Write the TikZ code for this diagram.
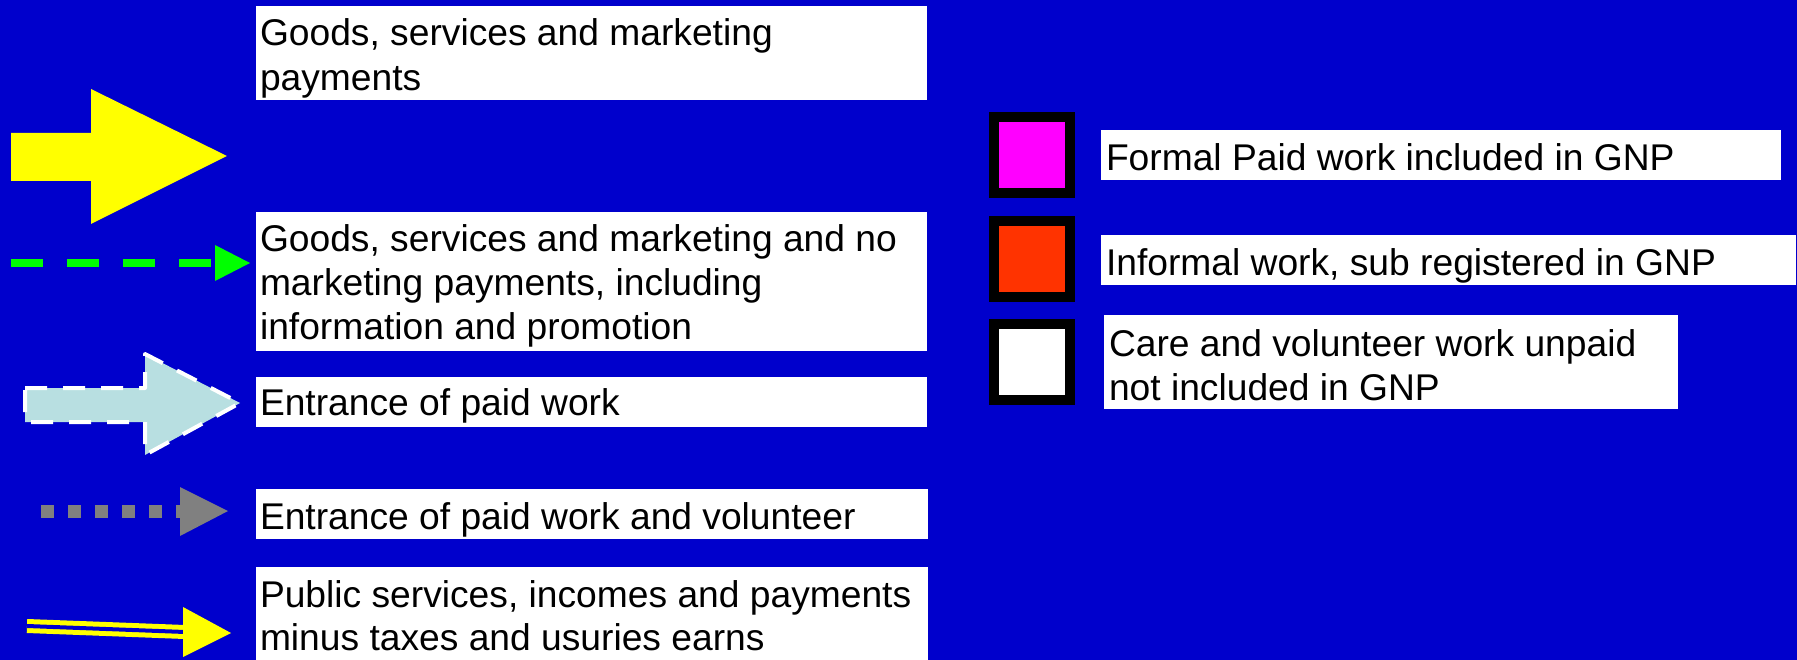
\documentclass[tikz,border=0pt]{standalone}
\usepackage{fontspec}
\setmainfont{Liberation Sans}
\definecolor{bgblue}{RGB}{0,0,204}
\definecolor{ayellow}{RGB}{255,255,0}
\definecolor{agreen}{RGB}{0,255,0}
\definecolor{alblue}{RGB}{184,223,225}
\definecolor{agray}{RGB}{128,128,128}
\definecolor{amagenta}{RGB}{255,0,255}
\definecolor{ared}{RGB}{255,51,0}
\begin{document}
\begin{tikzpicture}[x=1pt,y=-1pt,
  box/.style={fill=white, draw=none, anchor=north west, inner sep=0pt, outer sep=0pt},
  txt/.style={anchor=base west, inner sep=0pt, outer sep=0pt, font=\fontsize{37.2}{43}\selectfont},
  swatch/.style={draw=black, line width=10pt, anchor=north west, minimum width=76pt, minimum height=76pt, inner sep=0pt, outer sep=0pt},
]
\fill[bgblue] (0,0) rectangle (1797,660);
\useasboundingbox (0,0) rectangle (1797,660);

% left text boxes
\node[box, minimum width=671pt, minimum height=94pt] (b1) at (256,6) {};
\node[box, minimum width=671pt, minimum height=139pt] (b2) at (256,212) {};
\node[box, minimum width=671pt, minimum height=50pt] (b3) at (256,377) {};
\node[box, minimum width=672pt, minimum height=50pt] (b4) at (256,489) {};
\node[box, minimum width=672pt, minimum height=93pt] (b5) at (256,567) {};

\node[txt, font=\fontsize{37.2}{45}\selectfont] (t1) at (260,46) {\vtop{\hbox{Goods, services and marketing}\hbox{payments}}};
\node[txt, font=\fontsize{37.2}{44}\selectfont] (t2) at (260,252) {\vtop{\hbox{Goods, services and marketing and no}\hbox{marketing payments, including}\hbox{information and promotion}}};
\node[txt] (t3) at (260,415) {Entrance of paid work};
\node[txt] (t4) at (260,529) {Entrance of paid work and volunteer};
\node[txt] (t5) at (260,607) {\vtop{\hbox{Public services, incomes and payments}\hbox{minus taxes and usuries earns}}};

% right legend
\node[swatch, fill=amagenta] (s1) at (994,117) {};
\node[swatch, fill=ared] (s2) at (994,221) {};
\node[swatch, fill=white] (s3) at (994,324) {};

\node[box, minimum width=680pt, minimum height=50pt] (l1) at (1101,130) {};
\node[box, minimum width=695pt, minimum height=50pt] (l2) at (1101,235) {};
\node[box, minimum width=574pt, minimum height=94pt] (l3) at (1104,315) {};

\node[txt] (lt1) at (1106,171) {Formal Paid work included in GNP};
\node[txt] (lt2) at (1106,276) {Informal work, sub registered in GNP};
\node[txt, font=\fontsize{37.2}{44}\selectfont] (lt3) at (1109,356) {\vtop{\hbox{Care and volunteer work unpaid}\hbox{not included in GNP}}};

% arrow 1: big yellow block arrow
\fill[ayellow] (11,133) -- (91,133) -- (91,89) -- (227,156) -- (91,224) -- (91,181) -- (11,181) -- cycle;

% arrow 2: green dashed
\coordinate (g1) at (11,263);
\coordinate (g2) at (211,263);
\draw[agreen, line width=8pt, dash pattern=on 32pt off 24pt] (g1) -- (g2);
\fill[agreen] (215,245) -- (250,263) -- (215,281) -- cycle;

% arrow 3: light blue block arrow with white dashed outline
\filldraw[fill=alblue, draw=white, line width=4pt, dash pattern=on 22pt off 16pt, line join=round]
  (25,388) -- (145,388) -- (145,354) -- (240,403) -- (145,455) -- (145,422) -- (25,422) -- cycle;

% arrow 4: gray dotted
\coordinate (d1) at (41,511);
\coordinate (d2) at (190,511);
\draw[agray, line width=13pt, dash pattern=on 13pt off 14pt] (d1) -- (d2);
\fill[agray] (180,487) -- (228,511) -- (180,536) -- cycle;

% arrow 5: double yellow line
\coordinate (y1) at (27,626);
\coordinate (y2) at (185,632);
\draw[ayellow, line width=5pt, double=bgblue, double distance=4pt] (y1) -- (y2);
\fill[ayellow] (183,607) -- (231,633) -- (183,657) -- cycle;
\end{tikzpicture}
\end{document}
